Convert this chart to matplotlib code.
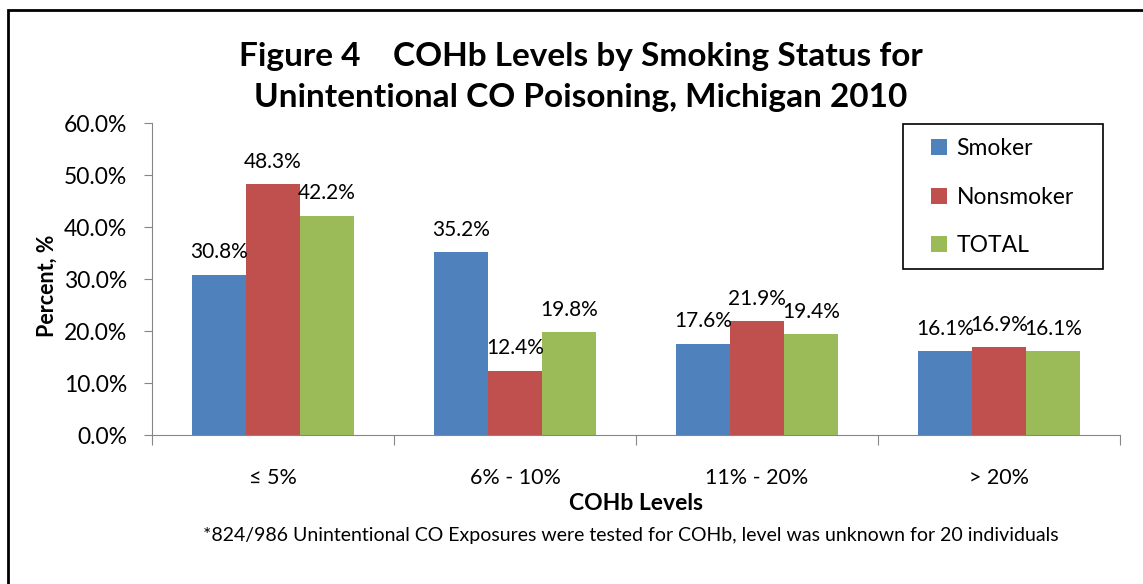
import matplotlib.pyplot as plt
import matplotlib.patches as patches
import numpy as np

plt.rcParams['font.family'] = ['Lato', 'DejaVu Sans']

categories = ['≤ 5%', '6% - 10%', '11% - 20%', '> 20%']
smoker = [30.8, 35.2, 17.6, 16.1]
nonsmoker = [48.3, 12.4, 21.9, 16.9]
total = [42.2, 19.8, 19.4, 16.1]
series_names = ['Smoker', 'Nonsmoker', 'TOTAL']
colors = ['#4F81BD', '#C0504D', '#9BBB59']


def plot_chart():
    fig = plt.figure(figsize=(11.43, 5.84), dpi=100)
    ax = fig.add_axes([0.133, 0.255, 0.847, 0.534])

    x = np.arange(len(categories))
    width = 0.223
    for i, (vals, name, c) in enumerate(zip([smoker, nonsmoker, total], series_names, colors)):
        ax.bar(x + (i - 1) * width, vals, width, color=c, label=name)
        for xi, v in zip(x + (i - 1) * width, vals):
            ax.annotate(f'{v:.1f}%', (xi, v), xytext=(0, 9), textcoords='offset points',
                        ha='center', va='bottom', fontsize=15)

    ax.set_xlim(-0.5, len(categories) - 0.5)
    ax.set_ylim(0, 60)
    ax.set_yticks(np.arange(0, 61, 10))
    ax.set_yticklabels([f'{t:.1f}%' for t in np.arange(0, 61, 10)], fontsize=16.5)
    ax.set_xticks(np.arange(-0.5, len(categories), 1.0))
    ax.set_xticklabels([])
    ax.set_xticks(x, minor=True)
    ax.set_xticklabels(categories, minor=True, fontsize=15.5)
    ax.tick_params(axis='x', which='major', length=7, color='#868686', direction='out')
    ax.tick_params(axis='x', which='minor', length=0, pad=24)
    ax.tick_params(axis='y', length=6, color='#868686', pad=12)
    for s in ['top', 'right']:
        ax.spines[s].set_visible(False)
    for s in ['left', 'bottom']:
        ax.spines[s].set_color('#868686')

    ax.set_ylabel('Percent, %', fontsize=15.5, fontweight='bold')
    ax.yaxis.set_label_coords(-0.097, 0.478)
    ax.set_xlabel('COHb Levels', fontsize=16.5, fontweight='bold', labelpad=3)

    fig.text(0.508, 0.868, 'Figure 4    COHb Levels by Smoking Status for\nUnintentional CO Poisoning, Michigan 2010',
             ha='center', va='center', fontsize=24, fontweight='bold', linespacing=1.5)
    fig.text(0.552, 0.083, '*824/986 Unintentional CO Exposures were tested for COHb, level was unknown for 20 individuals',
             ha='center', va='center', fontsize=14)

    # legend box drawn by hand so the padding matches the original
    box = patches.Rectangle((0.776, 0.532), 0.206, 0.465, transform=ax.transAxes,
                            fill=False, edgecolor='black', linewidth=1.2, clip_on=False, zorder=5)
    ax.add_patch(box)
    ax.legend(loc='center left', bbox_to_anchor=(0.805, 0.763), fontsize=16.5, frameon=False,
              labelspacing=1.2, handlelength=0.7, handleheight=0.7, handletextpad=0.4,
              borderpad=0, borderaxespad=0)

    border = patches.Rectangle((0.007, -0.1), 1.2, 1.083, transform=fig.transFigure,
                               fill=False, edgecolor='black', linewidth=2, clip_on=False)
    fig.patches.append(border)

    fig.savefig('out.png', dpi=100)


if __name__ == '__main__':
    plot_chart()
